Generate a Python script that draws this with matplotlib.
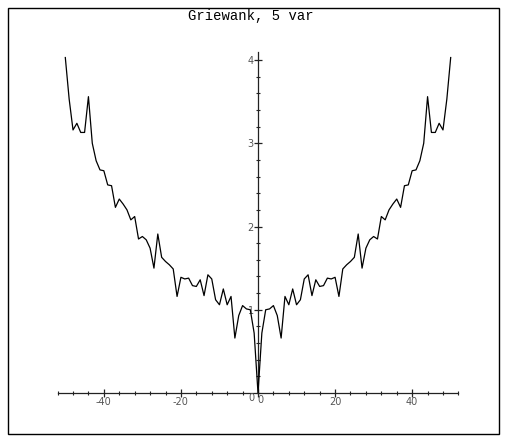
import matplotlib
matplotlib.use('Agg')
import matplotlib.pyplot as plt
from matplotlib.patches import Rectangle
from matplotlib.ticker import MultipleLocator

# valeurs (x entiers de -50 a 50)
x_vals = list(range(-50, 51))
y_vals = [4.03, 3.53, 3.16, 3.24, 3.13, 3.13, 3.56, 3.00, 2.79, 2.68,
          2.67, 2.50, 2.49, 2.23, 2.33, 2.27, 2.20, 2.08, 2.12, 1.85,
          1.88, 1.84, 1.74, 1.50, 1.91, 1.63, 1.58, 1.54, 1.49, 1.16,
          1.39, 1.37, 1.38, 1.29, 1.28, 1.36, 1.17, 1.42, 1.37, 1.12,
          1.06, 1.25, 1.06, 1.16, 0.66, 0.93, 1.05, 1.01, 1.00, 0.72,
          0.00,
          0.72, 1.00, 1.01, 1.05, 0.93, 0.66, 1.16, 1.06, 1.25, 1.06,
          1.12, 1.37, 1.42, 1.17, 1.36, 1.28, 1.29, 1.38, 1.37, 1.39,
          1.16, 1.49, 1.54, 1.58, 1.63, 1.91, 1.50, 1.74, 1.84, 1.88,
          1.85, 2.12, 2.08, 2.20, 2.27, 2.33, 2.23, 2.49, 2.50, 2.67,
          2.68, 2.79, 3.00, 3.56, 3.13, 3.13, 3.24, 3.16, 3.53, 4.03]
x_ticks = [-40, -20, 0, 20, 40]
y_ticks = [1, 2, 3, 4]
title = 'Griewank, 5 var'

W, H = 505, 440
fig = plt.figure(figsize=(W / 100, H / 100), dpi=100)

# cadre autour de la figure
fig.patches.append(Rectangle((7.5 / W, 1 - 433.5 / H), 491 / W, 425.5 / H,
                             transform=fig.transFigure, fill=False,
                             edgecolor='black', linewidth=1.0))

ax = fig.add_axes([57.6 / W, 47 / H, 400.8 / W, 341.3 / H])
ax.plot(x_vals, y_vals, color='black', linewidth=0.9)
ax.set_xlim(-52, 52)
ax.set_ylim(0, 4.1)

# axes qui se croisent a l'origine
for side in ['top', 'right']:
    ax.spines[side].set_visible(False)
ax.spines['left'].set_position(('data', 0))
ax.spines['bottom'].set_position(('data', 0))
for side in ['left', 'bottom']:
    ax.spines[side].set_linewidth(0.9)
    ax.spines[side].set_color('#222222')
    ax.spines[side].set_zorder(1)

ax.set_xticks(x_ticks)
ax.set_yticks(y_ticks)
ax.xaxis.set_minor_locator(MultipleLocator(4))
ax.yaxis.set_minor_locator(MultipleLocator(0.2))
ax.tick_params(which='major', direction='inout', length=6, width=0.9,
               color='#222222', labelsize=7, labelcolor='#555555', pad=0)
ax.tick_params(which='minor', direction='inout', length=3.5, width=0.8,
               color='#222222')
ax.set_xticklabels([str(t) if t != 0 else '' for t in x_ticks])
ax.set_yticklabels([str(t) for t in y_ticks])
for lab in ax.get_xticklabels() + ax.get_yticklabels():
    lab.set_clip_on(False)
# les deux "0" pres de l'origine
ax.text(0.6, -0.03, '0', fontsize=7, color='#555555', ha='center', va='top')
ax.text(-1.6, -0.005, '0', fontsize=7, color='#555555', ha='center', va='top')

fig.text(250.5 / W, 1 - 16 / H, title, family='Liberation Mono',
         fontsize=10, ha='center', va='center')

fig.savefig('out.png', dpi=100)
